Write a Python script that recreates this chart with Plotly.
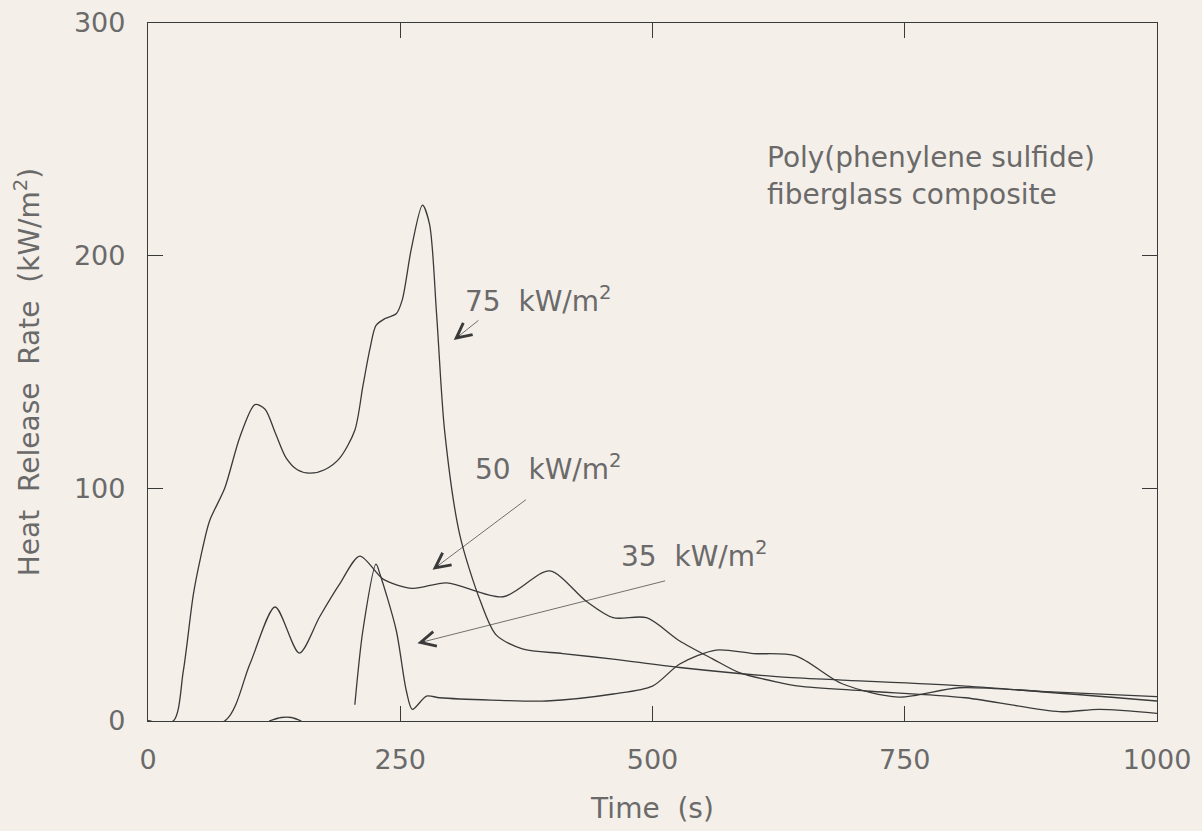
import plotly.graph_objects as go

# ---- data ----
t75 = [0, 25, 35, 45, 52, 61, 76, 91, 106, 116, 126, 137, 148, 160, 175, 190, 205, 213, 220, 226, 235, 246,
       252, 261, 272, 279, 286, 294, 309, 329, 345, 371, 411, 461, 527, 626, 688, 810, 1000]
v75 = [0, 0, 21.5, 54.5, 70, 86, 100, 122, 136, 134, 124, 113, 108, 106.5, 108, 113, 125, 144, 160, 170, 173, 175,
       181, 203, 221.7, 213.6, 175, 124.6, 80, 52, 37, 31, 29, 26.6, 23, 19, 17.6, 15, 8.6]

t50 = [0, 76, 101, 126, 150, 170, 190, 210, 233, 262, 296, 352, 398, 434, 461, 494, 527, 560,
       586, 626, 645, 711, 810, 903, 943, 1000]
v50 = [0, 0, 24.5, 49, 29.2, 44.7, 58.9, 70.9, 61, 57, 59.4, 53.4, 64.5, 51.6, 44.4, 44.4, 34.4, 26.6,
       20.8, 16.5, 15, 12.9, 10, 4, 5, 3.3]

t35 = [120, 132, 142, 152, None, 205, 213, 226, 230, 246, 256, 262, 276, 289, 340, 395, 461, 500,
       527, 563, 600, 642, 688, 744, 804, 890, 1000]
v35 = [0, 1.5, 1.5, 0, None, 7, 39, 67.4, 63, 39, 13, 5, 10.7, 10, 9, 8.6, 11.6, 15,
       24.5, 30.5, 29, 28, 16, 10.3, 14.3, 12.6, 10.5]

x_ticks = [0, 250, 500, 750, 1000]
y_ticks = [0, 100, 200, 300]

labels = ["75  kW/m<sup>2</sup>", "50  kW/m<sup>2</sup>", "35  kW/m<sup>2</sup>"]
material = ["Poly(phenylene sulfide)", "fiberglass composite"]

LINE = "#3a3a3a"
TEXT = "#6a6a6a"
FONT = "DejaVu Sans"
BG = "#f5efe9"
FS = 28

fig = go.Figure()
for t, v in [(t75, v75), (t50, v50), (t35, v35)]:
    fig.add_trace(go.Scatter(x=t, y=v, mode="lines",
                             line=dict(color=LINE, width=1.3, shape="spline", smoothing=0.8),
                             connectgaps=False, showlegend=False, hoverinfo="skip"))

# curve labels
lab_pos = [(312, 181), (322, 109), (467, 71.5)]
for txt, (lx, ly) in zip(labels, lab_pos):
    fig.add_annotation(x=lx, y=ly, text=txt, showarrow=False, xanchor="left", yanchor="middle",
                       font=dict(family=FONT, size=FS, color=TEXT))

# arrows (tip, tail)
arrows = [((303, 163.7), (329, 172.7)), ((282, 65), (376, 95.6)), ((267, 33.4), (514, 60.4))]
for (tx, ty), (sx, sy) in arrows:
    fig.add_annotation(x=tx, y=ty, ax=sx, ay=sy, axref="x", ayref="y", xref="x", yref="y",
                       text="", showarrow=True, arrowhead=5, arrowsize=4.2, arrowwidth=0.7,
                       arrowcolor=LINE)

for txt, yy in zip(material, [242, 226.5]):
    fig.add_annotation(x=611, y=yy, text=txt, showarrow=False, xanchor="left", yanchor="middle",
                       font=dict(family=FONT, size=FS, color=TEXT))

axis_common = dict(showline=True, linecolor=LINE, linewidth=1.3, mirror="allticks",
                   ticks="inside", ticklen=15, tickwidth=1.3, tickcolor=LINE,
                   showgrid=False, zeroline=False,
                   tickfont=dict(family=FONT, size=27, color=TEXT))

fig.update_xaxes(range=[0, 1000], tickvals=x_ticks, ticktext=[str(v) for v in x_ticks],
                 ticklabelstandoff=14,
                 title=dict(text="Time  (s)", standoff=24,
                            font=dict(family=FONT, size=FS, color=TEXT)),
                 **axis_common)
fig.update_yaxes(range=[0, 300], tickvals=y_ticks, ticktext=[str(v) for v in y_ticks],
                 ticklabelstandoff=16,
                 title=dict(text="Heat  Release  Rate  (kW/m<sup>2</sup>)", standoff=26,
                            font=dict(family=FONT, size=FS, color=TEXT)),
                 **axis_common)

fig.update_layout(width=1202, height=831, paper_bgcolor=BG, plot_bgcolor=BG,
                  margin=dict(l=148, r=45, t=23, b=110, autoexpand=False))

fig.write_html("out.html", config=dict(displayModeBar=False),
               post_script="document.body.style.margin='0';document.body.style.overflow='hidden';"
                           "document.body.style.background='" + BG + "';")
